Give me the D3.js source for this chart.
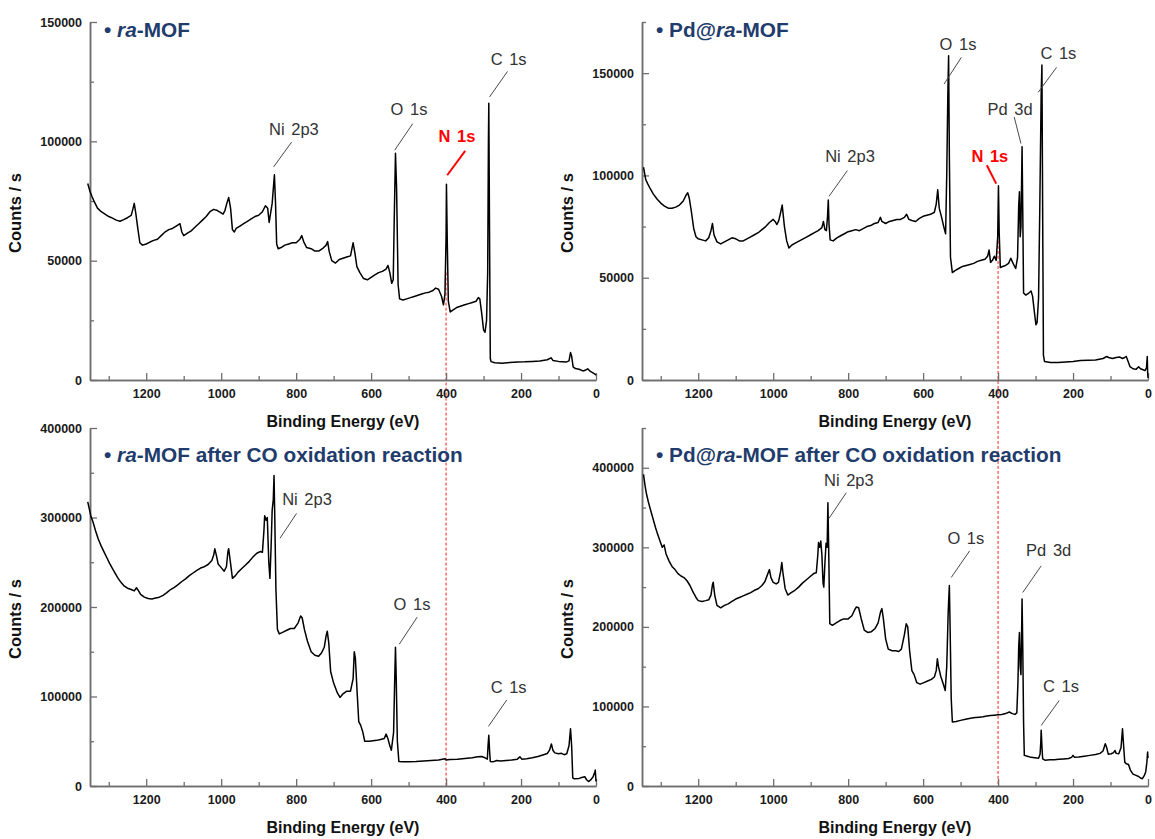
<!DOCTYPE html>
<html>
<head>
<meta charset="utf-8">
<script src="https://cdn.jsdelivr.net/npm/d3@7"></script>
<style>
  body { margin: 0; background: #fff; }
  svg text { font-family: Arial, "Liberation Sans", sans-serif; }
</style>
</head>
<body>
<div id="chart"></div>
<script>
// XPS survey spectra, [binding energy eV, counts/s]
var raMOF = [[1356,82300],[1350,79000],[1345,77000],[1338,74500],[1330,72000],[1320,70500],[1310,69500],[1300,68500],[1290,67800],[1280,67000],[1270,66500],[1260,67200],[1250,68000],[1240,69000],[1235,72000],[1232,74000],[1228,70000],[1222,63000],[1217,57500],[1210,56500],[1200,57000],[1190,57800],[1180,58500],[1170,59000],[1160,60500],[1150,62000],[1140,63000],[1130,63500],[1120,64500],[1110,65500],[1105,62000],[1100,60500],[1090,61500],[1080,62500],[1070,64000],[1060,65500],[1050,67000],[1040,68500],[1030,70500],[1020,71500],[1010,71000],[1000,70000],[995,69500],[990,71000],[985,74000],[980,76500],[975,72000],[970,63000],[965,62000],[960,63500],[950,64500],[940,65500],[930,66500],[920,67500],[910,68500],[900,69000],[890,70500],[882,73000],[876,72000],[872,66000],[868,70000],[864,74000],[860,82000],[858,86000],[855,74000],[852,57000],[848,55000],[840,55500],[830,56500],[820,57000],[810,57500],[800,57500],[790,59000],[785,60500],[780,58000],[772,55500],[760,55000],[750,54000],[740,54000],[730,55000],[720,56500],[716,58000],[712,54000],[705,50000],[695,49000],[685,50500],[675,51000],[665,51500],[655,52000],[648,57500],[643,53000],[638,47500],[630,45000],[620,42500],[610,42000],[600,43000],[590,44000],[580,45000],[570,45500],[560,46500],[555,48000],[550,45000],[545,40500],[541,42000],[538,70000],[535,95000],[532,80000],[528,40000],[524,34000],[515,33500],[505,34000],[495,34500],[485,35000],[475,35500],[465,36000],[455,36500],[445,36800],[435,37500],[428,38500],[420,38000],[412,35000],[407,31500],[403,36000],[400,60000],[399,82000],[397,60000],[394,33000],[389,28500],[380,29500],[370,30500],[360,31000],[350,31500],[340,32000],[330,32500],[320,33000],[314,34500],[310,34000],[305,28000],[300,21000],[296,20000],[292,25000],[289,45000],[287,100000],[286,116000],[284,60000],[282,9000],[280,7700],[270,7200],[250,7000],[230,7300],[210,7500],[190,7600],[170,7800],[150,8000],[130,8500],[120,9300],[115,8200],[100,7800],[80,7500],[72,8000],[68,11500],[65,10000],[61,5500],[55,4800],[45,4500],[35,3800],[27,4200],[22,4700],[15,3600],[8,3000],[3,2500],[0,2000]];

var pdMOF = [[1346,104000],[1343,101000],[1340,98000],[1335,96000],[1328,93500],[1320,91000],[1310,88500],[1300,86500],[1290,85000],[1280,84000],[1270,84000],[1260,84500],[1250,85500],[1240,87500],[1232,90500],[1228,91500],[1224,89000],[1218,82000],[1212,74000],[1206,70000],[1200,69000],[1190,68500],[1180,68000],[1172,69500],[1166,73000],[1162,76500],[1158,71000],[1150,67500],[1140,66500],[1130,67500],[1120,68500],[1110,69500],[1100,69000],[1090,68000],[1080,68000],[1070,69000],[1060,70000],[1050,71000],[1040,72000],[1030,73500],[1020,75000],[1010,77000],[1000,78500],[995,77500],[990,76000],[985,78000],[980,82000],[976,85500],[970,75000],[964,68000],[958,64500],[950,66000],[940,67000],[930,68000],[920,69000],[910,70000],[900,71000],[890,72000],[880,73000],[870,74500],[866,77500],[862,73500],[858,73000],[855,80000],[853,88000],[851,76000],[848,68500],[840,68000],[830,69500],[820,70500],[810,71500],[800,72500],[790,73000],[780,73500],[770,73000],[760,74000],[750,75000],[740,75500],[730,76500],[720,77000],[714,79500],[710,77500],[700,76500],[690,77500],[680,78000],[670,78500],[660,78500],[650,79500],[644,81000],[638,78500],[630,78000],[620,77500],[610,79000],[600,80000],[590,80500],[580,81000],[570,82000],[565,86000],[561,93000],[557,84000],[550,79000],[545,75000],[540,71500],[537,100000],[534,140000],[532,158500],[530,110000],[527,60000],[522,52500],[515,53500],[505,54500],[495,55500],[485,56000],[475,56500],[465,57000],[455,58000],[445,58500],[435,59000],[428,60500],[424,63500],[420,57500],[415,58500],[410,60500],[405,58500],[401,70000],[399,95000],[397,72000],[394,55000],[388,55500],[380,56000],[372,57000],[366,59500],[360,57000],[353,54500],[348,60000],[345,85000],[343,92000],[341,70000],[339,75000],[337,100000],[336,114000],[334,80000],[332,42500],[326,41500],[318,42500],[312,43500],[308,41000],[303,33000],[299,27000],[296,28000],[292,40000],[289,80000],[285,140000],[283,154000],[281,80000],[279,12000],[276,9000],[260,8500],[240,8500],[220,8800],[200,9000],[180,9500],[160,9700],[140,9800],[120,10500],[110,11500],[105,11000],[95,10500],[85,11000],[75,11200],[68,10500],[62,11000],[58,11500],[52,8500],[48,6500],[40,5500],[32,5200],[25,6500],[20,5500],[13,5000],[8,4600],[4,6000],[2,11500],[1,4000],[0,1000]];

var raMOFCO = [[1356,317500],[1352,310000],[1348,302000],[1342,295000],[1335,285000],[1328,276000],[1320,268000],[1312,261000],[1305,255000],[1298,249000],[1290,243000],[1282,237000],[1275,232000],[1268,228000],[1260,224000],[1250,221000],[1240,219500],[1232,218000],[1226,221500],[1222,219000],[1215,214000],[1205,211000],[1195,209500],[1185,209000],[1175,210000],[1165,211000],[1155,213000],[1145,216000],[1135,219500],[1125,222000],[1115,225000],[1105,228500],[1095,231500],[1085,235000],[1075,238000],[1065,241000],[1055,243500],[1045,245000],[1035,247500],[1025,252000],[1020,258000],[1017,265000],[1013,258000],[1008,248000],[1000,244000],[992,240000],[986,245000],[982,262000],[980,265000],[976,252000],[970,232000],[962,235000],[955,239000],[945,243000],[935,247000],[925,251000],[915,256000],[905,260000],[895,262000],[890,261000],[886,285000],[884,302000],[880,297000],[877,300000],[873,250000],[870,232000],[867,265000],[864,308000],[861,320000],[859,347000],[857,300000],[854,220000],[850,175000],[845,170000],[835,172000],[825,174000],[815,176000],[805,176000],[795,182000],[788,190000],[784,188000],[778,175000],[770,162000],[760,150000],[750,146000],[740,145000],[732,149000],[725,155000],[720,168000],[717,173000],[713,160000],[708,128000],[700,115000],[690,104000],[683,99000],[675,103000],[665,106000],[655,106000],[648,120000],[645,150000],[642,143000],[638,110000],[633,72000],[628,68000],[622,60000],[617,50000],[605,50000],[595,50500],[585,51000],[575,52000],[565,53000],[560,58000],[556,54000],[550,45000],[546,40000],[540,60000],[537,120000],[535,155000],[533,120000],[530,50000],[526,27500],[515,27000],[500,27200],[480,27500],[460,28000],[440,28500],[420,29000],[403,30500],[400,29000],[390,29500],[370,30000],[350,30800],[330,31500],[315,32600],[305,33000],[296,31500],[290,30000],[288,45000],[286,56600],[284,40000],[282,27500],[275,27000],[265,28500],[255,28000],[240,28500],[225,29000],[210,30000],[203,32600],[198,30000],[185,30500],[170,31500],[155,33000],[140,35000],[130,36300],[124,40000],[119,47000],[115,40000],[110,37000],[100,36000],[92,36500],[85,35000],[78,36000],[72,45000],[68,64000],[65,45000],[62,9000],[58,8000],[45,8500],[38,9500],[30,10400],[25,7000],[20,5000],[15,6500],[8,10000],[3,16000],[2,17800],[0,5000]];

var pdMOFCO = [[1346,391700],[1342,378000],[1338,367000],[1333,357000],[1326,345000],[1320,335000],[1314,325000],[1308,316000],[1302,308000],[1296,300000],[1291,303000],[1286,292000],[1278,283000],[1270,276000],[1262,272000],[1254,267000],[1246,264000],[1238,262000],[1230,258000],[1222,252000],[1214,244000],[1206,237000],[1200,233000],[1190,232000],[1180,233000],[1172,234000],[1166,240000],[1162,253000],[1160,256000],[1156,240000],[1150,227000],[1140,224000],[1130,227000],[1120,229000],[1110,232000],[1100,235000],[1090,237000],[1080,239000],[1070,241000],[1060,243000],[1050,246000],[1040,248000],[1030,252000],[1022,257000],[1015,266000],[1010,272000],[1006,262000],[1000,256000],[992,254000],[986,256000],[980,270000],[977,281000],[974,268000],[968,248000],[961,240000],[952,243000],[942,246000],[932,250000],[922,255000],[912,259000],[902,263000],[892,267000],[885,268000],[881,290000],[879,306000],[876,300000],[873,308000],[870,290000],[867,255000],[865,250000],[862,280000],[859,305000],[856,300000],[854,356000],[852,300000],[849,204000],[842,202000],[832,205000],[822,208000],[812,210000],[800,210000],[790,214000],[782,222000],[778,225000],[772,224000],[765,210000],[757,196000],[748,193000],[738,194000],[728,198000],[720,205000],[714,218000],[710,223000],[706,210000],[700,185000],[693,172000],[683,170000],[673,170000],[665,169000],[658,172000],[650,190000],[645,204000],[641,200000],[636,170000],[630,145000],[624,140000],[617,130000],[608,128000],[598,130000],[588,132000],[578,134000],[570,137000],[565,145000],[562,160000],[559,150000],[553,138000],[546,128000],[541,120000],[537,150000],[533,220000],[530,252000],[528,200000],[525,110000],[522,80500],[512,81000],[500,82500],[490,83500],[480,84500],[470,85500],[460,86000],[450,86500],[440,87000],[430,88000],[420,88500],[410,89000],[400,89500],[390,90000],[380,91000],[370,93000],[362,91000],[355,90000],[350,92000],[347,130000],[345,175000],[343,193000],[341,150000],[339,140000],[337,200000],[336,235000],[334,170000],[332,80000],[330,38500],[322,37500],[312,36000],[302,35500],[292,35000],[288,40000],[286,55000],[285,70000],[283,50000],[281,34000],[275,32500],[262,33000],[250,33000],[238,33500],[225,34000],[212,34500],[204,36000],[200,38500],[196,36000],[185,36500],[170,37500],[155,38500],[140,39500],[128,41000],[120,44000],[114,53000],[110,48000],[106,40000],[98,40500],[92,42000],[88,44700],[85,41000],[78,40500],[72,48000],[68,72000],[65,50000],[62,30000],[58,28000],[52,27000],[47,20000],[40,15000],[32,13400],[25,12000],[20,10000],[15,9200],[10,13000],[6,18000],[3,30000],[1,42600],[0,35000]];

// peak labels: text centre (eV, counts) and leader line (eV, counts) -> (eV, counts)
var peaksRa = [
  {t: "Ni 2p3", tx: 806, ty: 105300, l: [812, 99700, 860, 89300]},
  {t: "O 1s", tx: 499, ty: 113700, l: [489, 107400, 537, 96300]},
  {t: "N 1s", tx: 371, ty: 102100, l: [349, 96000, 397, 85800], red: true},
  {t: "C 1s", tx: 233, ty: 134600, l: [236, 129300, 284, 118600]}
];
var peaksPd = [
  {t: "O 1s", tx: 507, ty: 164200, l: [498, 157700, 544, 144700]},
  {t: "C 1s", tx: 239, ty: 159800, l: [244, 152800, 293, 140600]},
  {t: "Pd 3d", tx: 368, ty: 132400, l: [357, 128600, 339, 115600]},
  {t: "Ni 2p3", tx: 795, ty: 109400, l: [802, 102400, 851, 89800]},
  {t: "N 1s", tx: 422, ty: 109400, l: [430, 105000, 405, 96000], red: true}
];
var peaksRaCO = [
  {t: "Ni 2p3", tx: 771, ty: 320400, l: [799, 304500, 843, 276800]},
  {t: "O 1s", tx: 491, ty: 202800, l: [477, 188700, 525, 158400]},
  {t: "C 1s", tx: 233, ty: 110300, l: [238, 96200, 287, 66600]}
];
var peaksPdCO = [
  {t: "Ni 2p3", tx: 798, ty: 384600, l: [805, 368700, 851, 336500]},
  {t: "O 1s", tx: 486, ty: 312200, l: [476, 295500, 525, 262100]},
  {t: "Pd 3d", tx: 265, ty: 296800, l: [285, 276700, 334, 243300]},
  {t: "C 1s", tx: 232, ty: 125000, l: [237, 107400, 285, 76100]}
];

var xMajor = [1200, 1000, 800, 600, 400, 200, 0];
var xMinor = [1300, 1100, 900, 700, 500, 300, 100];
var nLine = 400; // N 1s guide, eV

const width = 1155, height = 839;
const pw = 506, ph = 358;
const titleColor = "#1f3c6c";

const panels = [
  {data: raMOF,   peaks: peaksRa,   yMax: 150000, yStep: 50000,  left: 90,  top: 22,  pre: "", post: "-MOF", titleY: 37},
  {data: pdMOF,   peaks: peaksPd,   yMax: 175000, yStep: 50000,  left: 642, top: 22,  pre: "Pd@", post: "-MOF", titleY: 37},
  {data: raMOFCO, peaks: peaksRaCO, yMax: 400000, yStep: 100000, left: 90,  top: 428, pre: "", post: "-MOF after CO oxidation reaction", titleY: 462},
  {data: pdMOFCO, peaks: peaksPdCO, yMax: 450000, yStep: 100000, left: 642, top: 428, pre: "Pd@", post: "-MOF after CO oxidation reaction", titleY: 462}
];

const svg = d3.select("#chart").append("svg")
    .attr("width", width)
    .attr("height", height);

panels.forEach(function(p) {
    p.x = d3.scaleLinear().domain([1350, 0]).range([p.left, p.left + pw]);
    p.y = d3.scaleLinear().domain([0, p.yMax]).range([p.top + ph, p.top]);
});

function styleAxis(g) {
    g.select(".domain").attr("stroke", "#6e6e6e").attr("stroke-width", 1.5);
    g.selectAll(".tick line").attr("stroke", "#6e6e6e").attr("stroke-width", 1.3);
    g.selectAll(".tick text")
        .attr("fill", "#1a1a1a")
        .style("font-size", "12.5px")
        .style("font-weight", "bold");
}

// N 1s guide lines, top spectrum down to bottom axis
[[panels[0], panels[2], 45000], [panels[1], panels[3], 68000]].forEach(function(pair) {
    svg.append("line")
        .attr("x1", pair[0].x(nLine)).attr("x2", pair[0].x(nLine))
        .attr("y1", pair[0].y(pair[2])).attr("y2", pair[1].y(0))
        .attr("stroke", "#ff2020")
        .attr("stroke-width", 1)
        .attr("stroke-dasharray", "3,2");
});

panels.forEach(function(p) {
    const g = svg.append("g");
    const base = p.top + ph;

    // minor ticks
    const yMinor = d3.range(p.yStep / 2, p.yMax + 1, p.yStep).filter(v => v % p.yStep !== 0);
    g.append("g")
        .attr("transform", `translate(0,${base})`)
        .call(d3.axisBottom(p.x).tickValues(xMinor).tickSize(-4).tickSizeOuter(0).tickFormat(""))
        .call(styleAxis);
    g.append("g")
        .attr("transform", `translate(${p.left},0)`)
        .call(d3.axisLeft(p.y).tickValues(yMinor).tickSize(-4).tickSizeOuter(0).tickFormat(""))
        .call(styleAxis);

    // major ticks
    g.append("g")
        .attr("transform", `translate(0,${base})`)
        .call(d3.axisBottom(p.x).tickValues(xMajor).tickSize(-7).tickSizeOuter(0).tickPadding(9).tickFormat(d3.format("d")))
        .call(styleAxis);
    g.append("g")
        .attr("transform", `translate(${p.left},0)`)
        .call(d3.axisLeft(p.y).tickValues(d3.range(0, p.yMax + 1, p.yStep)).tickSize(-7).tickSizeOuter(0).tickPadding(8).tickFormat(d3.format("d")))
        .call(styleAxis);

    // spectrum
    g.append("path")
        .datum(p.data)
        .attr("fill", "none")
        .attr("stroke", "#000")
        .attr("stroke-width", 1.5)
        .attr("stroke-linejoin", "round")
        .attr("d", d3.line().x(d => p.x(d[0])).y(d => p.y(d[1])));

    // axis titles
    g.append("text")
        .attr("x", p.left + pw / 2)
        .attr("y", base + 47)
        .attr("text-anchor", "middle")
        .style("font-size", "16px")
        .style("font-weight", "bold")
        .attr("fill", "#111")
        .text("Binding Energy (eV)");
    g.append("text")
        .attr("transform", `translate(${p.left - 69},${p.top + 191}) rotate(-90)`)
        .attr("text-anchor", "middle")
        .style("font-size", "16.5px")
        .style("font-weight", "bold")
        .attr("fill", "#111")
        .text("Counts / s");

    // sample title
    const t = g.append("text")
        .attr("x", p.left + 14)
        .attr("y", p.titleY)
        .attr("fill", titleColor)
        .style("font-size", "20.8px")
        .style("font-weight", "bold");
    t.append("tspan").text("\u2022 " + p.pre);
    t.append("tspan").style("font-style", "italic").text("ra");
    t.append("tspan").text(p.post);

    // peak labels
    p.peaks.forEach(function(k) {
        g.append("line")
            .attr("x1", p.x(k.l[0])).attr("y1", p.y(k.l[1]))
            .attr("x2", p.x(k.l[2])).attr("y2", p.y(k.l[3]))
            .attr("stroke", k.red ? "#ff0000" : "#4a4a4a")
            .attr("stroke-width", k.red ? 2 : 1);
        g.append("text")
            .attr("x", p.x(k.tx))
            .attr("y", p.y(k.ty))
            .attr("dy", "0.36em")
            .attr("text-anchor", "middle")
            .attr("fill", k.red ? "#ff0000" : "#333")
            .style("font-size", "16.5px")
            .style("font-weight", k.red ? "bold" : "normal")
            .style("word-spacing", "2px")
            .text(k.t);
    });
});
</script>
</body>
</html>
